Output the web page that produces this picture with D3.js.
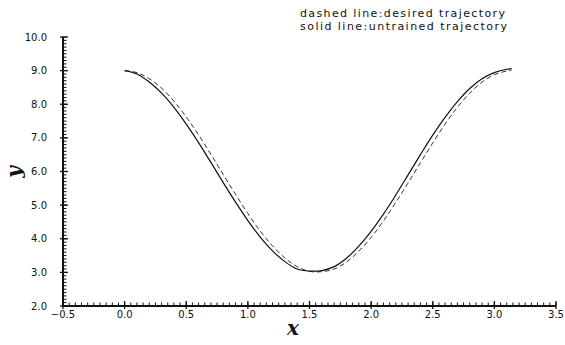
<!DOCTYPE html>
<html>
<head>
<meta charset="utf-8">
<script src="https://cdn.jsdelivr.net/npm/d3@7"></script>
<style>
  body { margin: 0; background: #fff; }
  svg { display: block; }
  .tick-label { font-family: "DejaVu Sans", sans-serif; font-size: 10px; fill: #111; }
  .legend { font-family: "DejaVu Sans", sans-serif; font-size: 11px; fill: #111; }
  .axis-title { font-family: "DejaVu Serif", serif; font-style: italic; font-weight: bold; font-size: 20px; fill: #111; }
</style>
</head>
<body>
<div id="chart"></div>
<script>
// sample positions (x) shared by both curves
const xs = [0.0, 0.1, 0.2, 0.3, 0.4, 0.5, 0.6, 0.7, 0.8, 0.9, 1.0, 1.1, 1.2, 1.3, 1.4, 1.5,
            1.6, 1.7, 1.8, 1.9, 2.0, 2.1, 2.2, 2.3, 2.4, 2.5, 2.6, 2.7, 2.8, 2.9, 3.0, 3.1, 3.14];
// dashed line: desired trajectory
const desired = [9.00, 8.94, 8.76, 8.48, 8.09, 7.62, 7.09, 6.51, 5.91, 5.32, 4.75, 4.23, 3.79, 3.43, 3.17, 3.03,
                 3.02, 3.10, 3.31, 3.63, 4.04, 4.53, 5.08, 5.66, 6.26, 6.85, 7.41, 7.91, 8.33, 8.66, 8.88, 8.99, 9.02];
// solid line: untrained trajectory
const untrained = [9.00, 8.90, 8.66, 8.33, 7.91, 7.41, 6.86, 6.27, 5.67, 5.09, 4.54, 4.05, 3.64, 3.32, 3.10, 3.04,
                   3.05, 3.17, 3.42, 3.78, 4.22, 4.73, 5.30, 5.90, 6.50, 7.08, 7.61, 8.08, 8.47, 8.76, 8.94, 9.04, 9.06];

const xTicks = [-0.5, 0.0, 0.5, 1.0, 1.5, 2.0, 2.5, 3.0, 3.5];
const yTicks = [2, 3, 4, 5, 6, 7, 8, 9, 10];
const legendLines = ["dashed line:desired trajectory", "solid line:untrained trajectory"];

const width = 565, height = 345;
const plotLeft = 63, plotRight = 556, plotTop = 37, plotBottom = 306;

const svg = d3.select("#chart").append("svg")
  .attr("width", width)
  .attr("height", height);

const x = d3.scaleLinear().domain([-0.5, 3.5]).range([plotLeft, plotRight]);
const y = d3.scaleLinear().domain([2, 10]).range([plotBottom, plotTop]);

/* minor ticks */
const xMinor = d3.range(-0.5, 3.5001, 0.05);
const yMinor = d3.range(2, 10.0001, 0.1);

svg.append("g").selectAll("line")
  .data(xMinor).enter().append("line")
  .attr("x1", d => x(d)).attr("x2", d => x(d))
  .attr("y1", plotBottom).attr("y2", plotBottom - 3.5)
  .attr("stroke", "#111").attr("stroke-width", 1);

svg.append("g").selectAll("line")
  .data(yMinor).enter().append("line")
  .attr("x1", plotLeft).attr("x2", plotLeft + 3.5)
  .attr("y1", d => y(d)).attr("y2", d => y(d))
  .attr("stroke", "#111").attr("stroke-width", 1);

/* major ticks */
svg.append("g").selectAll("line")
  .data(xTicks).enter().append("line")
  .attr("x1", d => x(d)).attr("x2", d => x(d))
  .attr("y1", plotBottom + 3).attr("y2", plotBottom - 5)
  .attr("stroke", "#111").attr("stroke-width", 1.3);

svg.append("g").selectAll("line")
  .data(yTicks).enter().append("line")
  .attr("x1", plotLeft - 3).attr("x2", plotLeft + 5)
  .attr("y1", d => y(d)).attr("y2", d => y(d))
  .attr("stroke", "#111").attr("stroke-width", 1.3);

/* axis lines */
svg.append("line")
  .attr("x1", plotLeft).attr("x2", plotRight)
  .attr("y1", plotBottom).attr("y2", plotBottom)
  .attr("stroke", "#111").attr("stroke-width", 2);
svg.append("line")
  .attr("x1", plotLeft).attr("x2", plotLeft)
  .attr("y1", plotTop).attr("y2", plotBottom)
  .attr("stroke", "#111").attr("stroke-width", 2);

/* tick labels */
svg.append("g").selectAll("text")
  .data(xTicks).enter().append("text")
  .attr("class", "tick-label")
  .attr("x", d => x(d))
  .attr("y", plotBottom + 12)
  .attr("text-anchor", "middle")
  .text(d => d3.format(".1f")(d).replace("-", "\u2212"));

svg.append("g").selectAll("text")
  .data(yTicks).enter().append("text")
  .attr("class", "tick-label")
  .attr("x", plotLeft - 16)
  .attr("y", d => y(d) + 3.5)
  .attr("text-anchor", "end")
  .text(d => d3.format(".1f")(d));

/* axis titles */
svg.append("text")
  .attr("class", "axis-title")
  .attr("x", 293).attr("y", 335)
  .attr("text-anchor", "middle")
  .text("x");

svg.append("text")
  .attr("class", "axis-title")
  .attr("transform", "translate(21,172) rotate(-90)")
  .attr("text-anchor", "middle")
  .text("y");

/* curves */
const line = d3.line()
  .x((d, i) => x(xs[i]))
  .y(d => y(d))
  .curve(d3.curveCatmullRom);

svg.append("path")
  .attr("d", line(desired))
  .attr("fill", "none")
  .attr("stroke", "#333")
  .attr("stroke-width", 1)
  .attr("stroke-dasharray", "5,3");

svg.append("path")
  .attr("d", line(untrained))
  .attr("fill", "none")
  .attr("stroke", "#111")
  .attr("stroke-width", 1.2);

/* legend text */
svg.append("g").selectAll("text")
  .data(legendLines).enter().append("text")
  .attr("class", "legend")
  .attr("x", 300)
  .attr("y", (d, i) => 17 + i * 12.5)
  .attr("textLength", (d, i) => i === 0 ? 205 : 207)
  .attr("lengthAdjust", "spacing")
  .text(d => d);
</script>
</body>
</html>
